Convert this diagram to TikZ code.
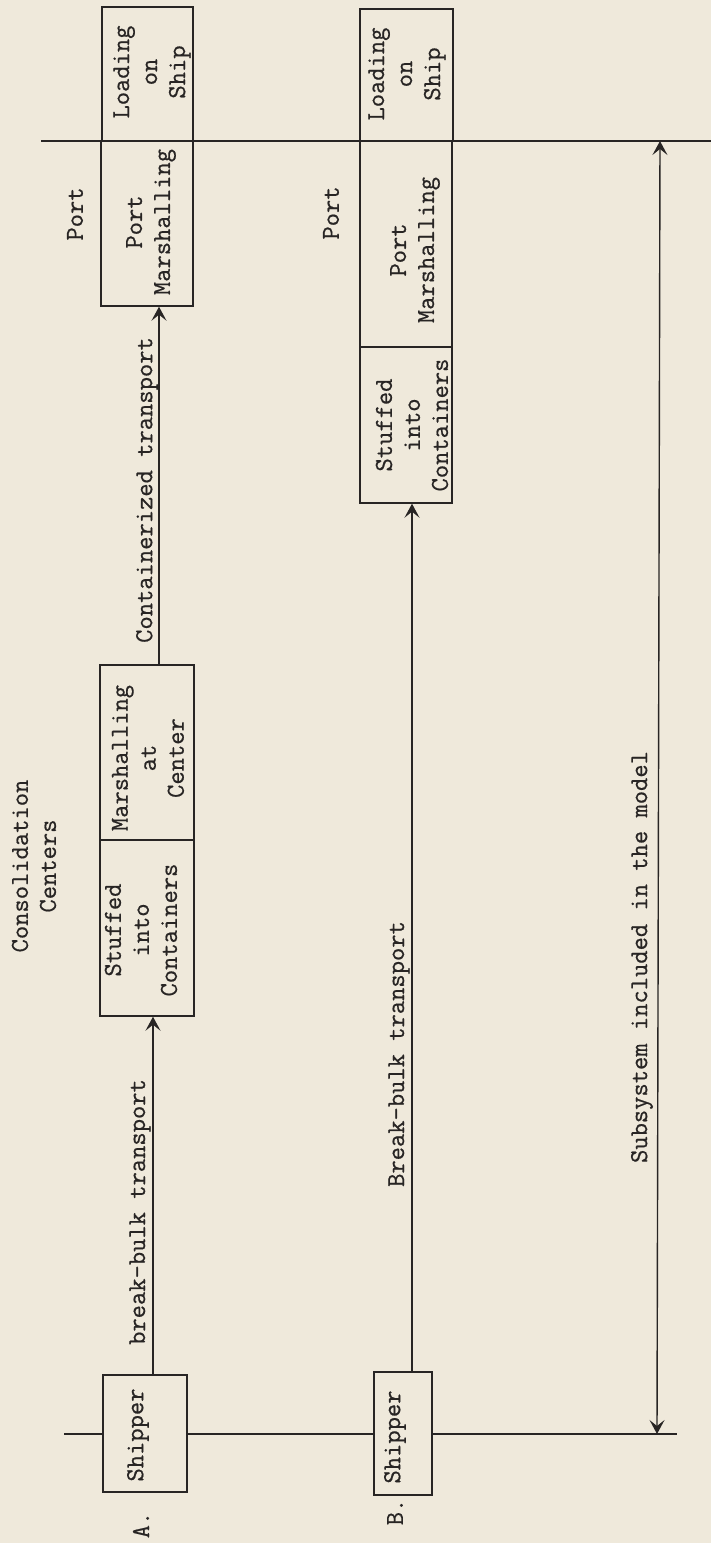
\documentclass[tikz,border=0pt]{standalone}
\usepackage{fontspec}
\setmonofont{Latin Modern Mono}[FakeBold=0.6]
\usetikzlibrary{arrows.meta,calc}
\definecolor{paper}{RGB}{239,233,219}
\definecolor{ink}{RGB}{40,37,36}
\begin{document}
\begin{tikzpicture}[x=1pt,y=-1pt,
  box/.style={draw=ink,line width=1.4pt,inner sep=0pt},
  lbl/.style={rotate=90,align=center,text=ink,inner sep=0pt,
    font=\ttfamily\fontsize{25.8}{28}\selectfont},
  rule/.style={draw=ink,line width=1.4pt},
  tip/.tip={Stealth[length=14pt,width=15pt,inset=6pt]},
  arr/.style={rule,-tip},
  darr/.style={rule,tip-tip}]
\fill[paper] (0,0) rectangle (711,1543);
\useasboundingbox (0,0) rectangle (711,1543);

% ---------- boxes ----------
\node[box,minimum width=91pt,minimum height=134pt] (loadA) at (147.5,74) {};
\node[box,minimum width=92pt,minimum height=165pt] (portA) at (147,223.5) {};
\node[box,minimum width=94pt,minimum height=175pt] (marshA) at (147,752.5) {};
\node[box,minimum width=94pt,minimum height=176pt] (stuffA) at (147,928) {};
\node[box,minimum width=84pt,minimum height=117pt] (shipA) at (145,1433.5) {};

\node[box,minimum width=93pt,minimum height=132pt] (loadB) at (406.5,75) {};
\node[box,minimum width=92pt,minimum height=206pt] (portB) at (406,244) {};
\node[box,minimum width=92pt,minimum height=156pt] (stuffB) at (406,425) {};
\node[box,minimum width=58pt,minimum height=123pt] (shipB) at (403,1433.5) {};

% ---------- box texts ----------
\node[lbl] (tloadA) at (152,72) {Loading\\on\\Ship};
\node[lbl] (tportA) at (151,222) {Port\\Marshalling};
\node[lbl] (tmarshA) at (148,758) {Marshalling\\at\\Center};
\node[lbl] (tstuffA) at (141,930) {Stuffed\\into\\Containers};
\node[lbl] (tshipA) at (138,1435) {Shipper};

\node[lbl] (tloadB) at (407,74) {Loading\\on\\Ship};
\node[lbl] (tportB) at (415,250) {Port\\Marshalling};
\node[lbl] (tstuffB) at (412,425) {Stuffed\\into\\Containers};
\node[lbl] (tshipB) at (395,1437) {Shipper};

% ---------- free labels ----------
\node[lbl] (portlA) at (75,214) {Port};
\node[lbl] (portlB) at (331,213) {Port};
\node[lbl] (cons) at (34,866) {Consolidation\\Centers};
\node[lbl] (la) at (141,1525) {A.};
\node[lbl] (lb) at (395,1512) {B.};
\node[lbl] (ctr) at (147,490) {Containerized transport};
\node[lbl] (bbA) at (140,1212) {break-bulk transport};
\node[lbl] (bbB) at (399,1054) {Break-bulk transport};
\node[lbl] (sub) at (642,957) {Subsystem included in the model};

% ---------- horizontal rules ----------
\coordinate (topL) at (41,141);
\coordinate (topR) at (711,141);
\coordinate (botL) at (64,1434);
\coordinate (botR) at (677,1434);
\draw[rule] (topL) -- (topR);
\draw[rule] (botL) -- (botL -| shipA.west);
\draw[rule] (botL -| shipA.east) -- (botL -| shipB.west);
\draw[rule] (botL -| shipB.east) -- (botR);

% ---------- connectors ----------
\draw[arr] ([xshift=8pt]shipA.north) -- ([xshift=8pt]shipA.north |- stuffA.south);
\draw[arr] ([xshift=12pt]marshA.north) -- ([xshift=12pt]marshA.north |- portA.south);
\draw[arr] ([xshift=9pt]shipB.north) -- ([xshift=9pt]shipB.north |- stuffB.south);

\coordinate (sysT) at (660,141);
\coordinate (sysB) at (657,1434);
\draw[darr] (sysB) -- (sysT);
\end{tikzpicture}
\end{document}
